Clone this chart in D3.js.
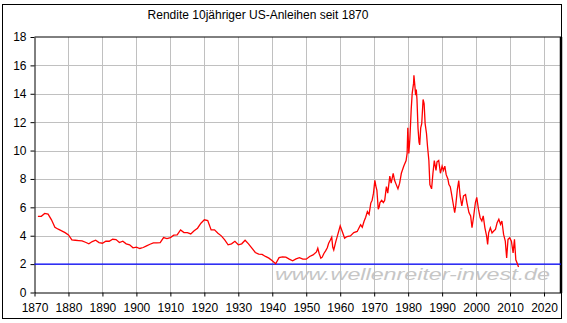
<!DOCTYPE html>
<html>
<head>
<meta charset="utf-8">
<script src="https://cdn.jsdelivr.net/npm/d3@7"></script>
<style>
  body { margin: 0; background: #fff; }
  text { font-family: "Liberation Sans", Arial, sans-serif; }
</style>
</head>
<body>
<div id="chart"></div>
<script>
// data
const title = "Rendite 10jähriger US-Anleihen seit 1870";
const watermark = "www.wellenreiter-invest.de";
const xTicks = [1870, 1880, 1890, 1900, 1910, 1920, 1930, 1940, 1950, 1960, 1970, 1980, 1990, 2000, 2010, 2020];
const yTicks = [0, 2, 4, 6, 8, 10, 12, 14, 16, 18];
const refLevel = 2;

const years = [
  1871, 1872, 1873, 1874, 1875, 1876, 1877, 1878, 1879, 1880,
  1881, 1882, 1883, 1884, 1885, 1886, 1887, 1888, 1889, 1890,
  1891, 1892, 1893, 1894, 1895, 1896, 1897, 1898, 1899, 1900,
  1901, 1902, 1903, 1904, 1905, 1906, 1907, 1908, 1909, 1910,
  1911, 1912, 1913, 1914, 1915, 1916, 1917, 1918, 1919, 1920,
  1921, 1922, 1923, 1924, 1925, 1926, 1927, 1928, 1929, 1930,
  1931, 1932, 1933, 1934, 1935, 1936, 1937, 1938, 1939, 1940,
  1941, 1942, 1943, 1944, 1945, 1946, 1947, 1948, 1949, 1950,
  1951, 1952, 1953, 1953.4, 1953.8, 1954.3, 1954.7, 1955.2, 1955.7, 1956.2,
  1956.6, 1957.1, 1957.5, 1957.8, 1958.1, 1958.7, 1959.3, 1960, 1960.6, 1961.3,
  1962, 1963, 1964, 1965, 1966, 1966.5, 1967, 1967.5, 1968, 1968.5,
  1969, 1969.4, 1969.8, 1970.2, 1970.5, 1970.8, 1971.2, 1971.5, 1971.7, 1972.2,
  1972.7, 1973.1, 1973.6, 1974, 1974.6, 1975, 1975.6, 1976, 1976.5, 1977,
  1977.5, 1978, 1978.7, 1979.4, 1979.7, 1979.9, 1980.2, 1980.5, 1980.9, 1981.2,
  1981.6, 1981.7, 1982, 1982.2, 1982.4, 1982.6, 1982.9, 1983.2, 1983.4, 1983.7,
  1984, 1984.4, 1984.7, 1985, 1985.4, 1985.7, 1986.1, 1986.4, 1986.9, 1987.3,
  1987.7, 1988.2, 1988.5, 1989, 1989.5, 1990, 1990.4, 1990.8, 1991.2, 1991.7,
  1992, 1992.4, 1992.7, 1993.2, 1993.7, 1994, 1994.5, 1994.9, 1995.3, 1995.8,
  1996.3, 1996.9, 1997.3, 1997.9, 1998.4, 1998.8, 1999.3, 1999.8, 2000.2, 2000.7,
  2001.2, 2001.7, 2002.1, 2002.6, 2003.1, 2003.4, 2003.7, 2004.2, 2004.7, 2005.2,
  2005.7, 2006.2, 2006.7, 2007.2, 2007.6, 2008.1, 2008.6, 2009, 2009.4, 2009.9,
  2010.4, 2010.9, 2011.3, 2011.7, 2012.1, 2012.5
];
const yields = [
  5.37, 5.37, 5.57, 5.52, 5.12, 4.6, 4.46, 4.34, 4.22, 4.06,
  3.7, 3.68, 3.66, 3.64, 3.54, 3.43, 3.59, 3.68, 3.52, 3.47,
  3.61, 3.61, 3.75, 3.73, 3.52, 3.61, 3.43, 3.36, 3.15, 3.19,
  3.1, 3.17, 3.29, 3.4, 3.5, 3.5, 3.52, 3.87, 3.8, 3.87,
  4.04, 4.06, 4.41, 4.22, 4.22, 4.13, 4.35, 4.53, 4.88, 5.12,
  5.07, 4.41, 4.41, 4.18, 3.99, 3.71, 3.36, 3.43, 3.61, 3.36,
  3.43, 3.68, 3.43, 3.12, 2.82, 2.7, 2.68, 2.54, 2.42, 2.23,
  2.02, 2.46, 2.51, 2.49, 2.35, 2.23, 2.37, 2.46, 2.35, 2.35,
  2.54, 2.65, 2.86, 3.12, 2.75, 2.42, 2.49, 2.75, 2.93, 3.15,
  3.47, 3.7, 3.9, 3.2, 3.0, 3.59, 4.1, 4.69, 4.3, 3.83,
  3.94, 3.99, 4.22, 4.3, 4.77, 4.6, 5.0, 5.3, 5.7, 5.5,
  6.3, 6.5, 7.0, 7.9, 7.5, 7.2, 5.87, 6.06, 6.34, 6.5,
  6.34, 6.5, 7.46, 7.0, 8.2, 7.7, 8.4, 7.9, 7.6, 7.3,
  7.7, 8.4, 8.9, 9.3, 9.8, 11.6, 9.8, 10.8, 12.9, 14.05,
  14.75, 15.3, 14.5, 13.9, 14.3, 13.6, 11.6, 10.6, 10.4, 11.6,
  11.9, 13.6, 13.3, 11.9, 11.2, 10.3, 9.3, 7.6, 7.3, 8.4,
  9.3, 8.6, 9.2, 9.3, 8.4, 8.9, 8.6, 8.9, 8.3, 8.0,
  7.6, 7.45, 7.05, 6.34, 5.63, 6.1, 7.29, 7.88, 6.8, 6.1,
  6.8, 6.9, 6.34, 5.63, 5.4, 4.56, 5.4, 6.34, 6.7, 5.87,
  5.27, 5.04, 5.4, 4.56, 3.97, 3.38, 4.2, 4.56, 4.2, 4.33,
  4.45, 4.92, 5.16, 4.8, 5.04, 4.09, 3.62, 2.43, 3.74, 3.85,
  3.62, 2.79, 3.74, 2.3, 2.06, 1.79
];

const W = 567, H = 323;
const svg = d3.select("#chart").append("svg")
  .attr("width", W).attr("height", H);

// outer frame
svg.append("rect")
  .attr("x", 2.5).attr("y", 4.5)
  .attr("width", 559).attr("height", 314)
  .attr("fill", "#fff").attr("stroke", "#000");

svg.append("text")
  .attr("x", 258).attr("y", 19)
  .attr("text-anchor", "middle")
  .attr("font-size", 12)
  .text(title);

const x = d3.scaleLinear().domain([1870, 2025]).range([34.5, 561]);
const y = d3.scaleLinear().domain([0, 18]).range([292.5, 37]);

// watermark sits under the grid
svg.append("text")
  .attr("x", 275).attr("y", 280)
  .attr("font-size", 16)
  .attr("font-style", "italic")
  .attr("fill", "#c6c6c6")
  .attr("textLength", 275)
  .attr("lengthAdjust", "spacingAndGlyphs")
  .text(watermark);

// grid
svg.append("g").selectAll("line")
  .data(xTicks.filter(d => d > 1870))
  .join("line")
  .attr("x1", d => Math.round(x(d)) + 0.5).attr("x2", d => Math.round(x(d)) + 0.5)
  .attr("y1", y(18)).attr("y2", y(0))
  .attr("stroke", "#c0c0c0");
svg.append("g").selectAll("line")
  .data(yTicks.filter(d => d > 0 && d < 18))
  .join("line")
  .attr("x1", x(1870)).attr("x2", x(2025))
  .attr("y1", d => Math.round(y(d)) + 0.5).attr("y2", d => Math.round(y(d)) + 0.5)
  .attr("stroke", "#c0c0c0");

// axes
const xAxis = svg.append("g")
  .attr("transform", `translate(0,${y(0)})`)
  .call(d3.axisBottom(x).tickValues(xTicks).tickFormat(d3.format("d")).tickSize(4).tickSizeOuter(0));
const yAxis = svg.append("g")
  .attr("transform", `translate(${x(1870)},0)`)
  .call(d3.axisLeft(y).tickValues(yTicks).tickSize(4).tickSizeOuter(0));
[xAxis, yAxis].forEach(g => {
  g.select(".domain").attr("stroke", "#000");
  g.selectAll(".tick line").attr("stroke", "#000");
  g.selectAll("text").attr("fill", "#000").attr("font-size", 12)
    .attr("font-family", "'Liberation Sans', Arial, sans-serif");
});
xAxis.selectAll("text").attr("dy", "1.05em");
yAxis.selectAll("text").attr("x", -8);

// top and right border of plot
svg.append("line")
  .attr("x1", x(1870)).attr("x2", x(2025))
  .attr("y1", y(18)).attr("y2", y(18))
  .attr("stroke", "#000");
svg.append("line")
  .attr("x1", x(2025)).attr("x2", x(2025))
  .attr("y1", y(18)).attr("y2", y(0) + 0.5)
  .attr("stroke", "#000").attr("stroke-width", 2.5);

// reference line at 2%
svg.append("line")
  .attr("x1", x(1870)).attr("x2", x(2025))
  .attr("y1", y(refLevel)).attr("y2", y(refLevel))
  .attr("stroke", "#0000ff").attr("stroke-width", 1.3);

// yield line
const pts = years.map((yr, i) => [yr, yields[i]]);
svg.append("path")
  .datum(pts)
  .attr("fill", "none")
  .attr("stroke", "#ff0000")
  .attr("stroke-width", 1.3)
  .attr("d", d3.line().x(d => x(d[0])).y(d => y(d[1])));
</script>
</body>
</html>
